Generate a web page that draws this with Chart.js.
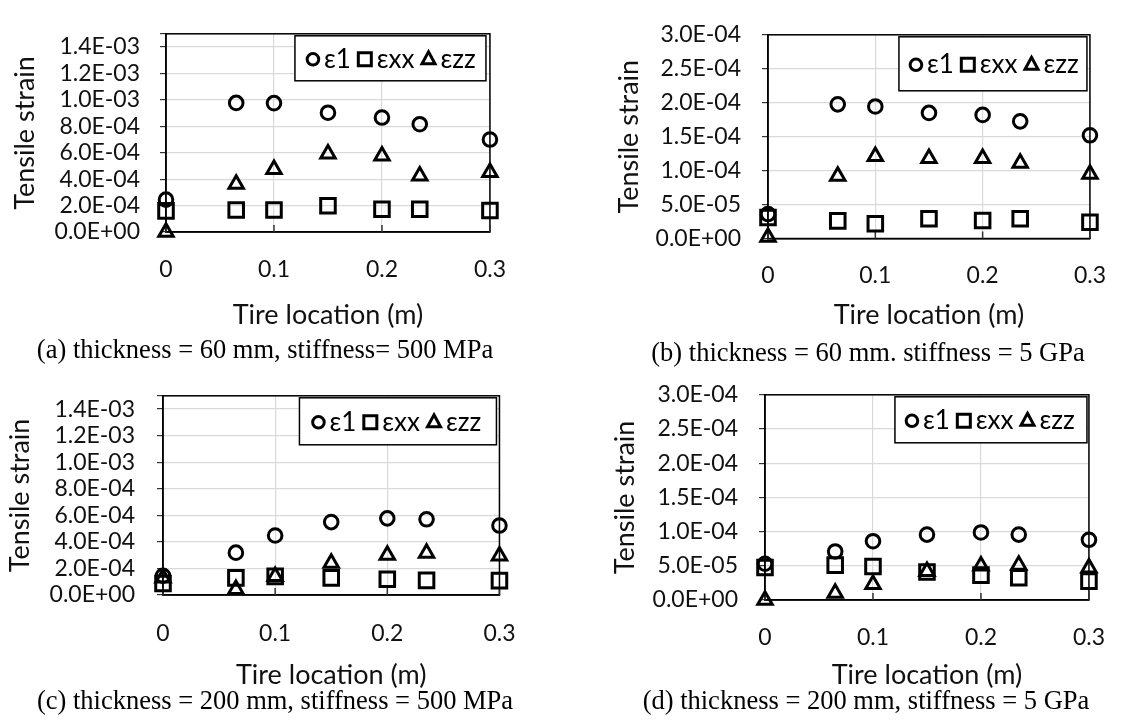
<!DOCTYPE html>
<html>
<head>
<meta charset="utf-8">
<script src="https://cdn.jsdelivr.net/npm/chart.js@4.4.0/dist/chart.umd.min.js"></script>
<style>
  body { margin: 0; background: #fff; width: 1129px; height: 723px; position: relative; overflow: hidden; }
  .panel { position: absolute; }
  .cap { position: absolute; font-family: 'Liberation Serif', 'Times New Roman', serif; font-size: 26.5px;
         white-space: nowrap; transform: translate(-50%, -50%); color: #000; line-height: 1; }
</style>
</head>
<body>
<div class="panel" style="left:0px;top:0px;width:530px;height:336px"><canvas id="chartA"></canvas></div>
<div class="panel" style="left:600px;top:0px;width:529px;height:336px"><canvas id="chartB"></canvas></div>
<div class="panel" style="left:0px;top:360px;width:540px;height:336px"><canvas id="chartC"></canvas></div>
<div class="panel" style="left:600px;top:360px;width:529px;height:336px"><canvas id="chartD"></canvas></div>

<div class="cap" style="left:265px;top:349px">(a) thickness = 60 mm, stiffness= 500 MPa</div>
<div class="cap" style="left:868px;top:352px">(b) thickness = 60 mm. stiffness = 5 GPa</div>
<div class="cap" style="left:275px;top:700px">(c) thickness = 200 mm, stiffness = 500 MPa</div>
<div class="cap" style="left:866px;top:700px">(d) thickness = 200 mm, stiffness = 5 GPa</div>

<script>
// tire locations (m), same for every panel
var xLoc = [0, 0.065, 0.1, 0.15, 0.2, 0.235, 0.3];
var seriesNames = ['ε1', 'εxx', 'εzz'];
var xTickLabels = ['0', '0.1', '0.2', '0.3'];
var yTickLabelsSoft = ['0.0E+00', '2.0E-04', '4.0E-04', '6.0E-04', '8.0E-04', '1.0E-03', '1.2E-03', '1.4E-03'];
var yTickLabelsStiff = ['0.0E+00', '5.0E-05', '1.0E-04', '1.5E-04', '2.0E-04', '2.5E-04', '3.0E-04'];

// (a) 60 mm, 500 MPa
var e1A  = [2.45e-4, 9.77e-4, 9.75e-4, 9.03e-4, 8.66e-4, 8.16e-4, 7.00e-4];
var exxA = [1.60e-4, 1.67e-4, 1.67e-4, 1.99e-4, 1.72e-4, 1.72e-4, 1.63e-4];
var ezzA = [0,       3.62e-4, 4.74e-4, 5.92e-4, 5.77e-4, 4.25e-4, 4.52e-4];
// (b) 60 mm, 5 GPa
var e1B  = [3.6e-5, 1.976e-4, 1.945e-4, 1.85e-4, 1.82e-4, 1.725e-4, 1.52e-4];
var exxB = [3.1e-5, 2.6e-5,   2.16e-5,  2.9e-5,  2.65e-5, 2.9e-5,   2.4e-5];
var ezzB = [2e-6,   9.2e-5,   1.21e-4,  1.18e-4, 1.18e-4, 1.11e-4,  9.5e-5];
// (c) 200 mm, 500 MPa
var e1C  = [1.45e-4, 3.19e-4, 4.48e-4, 5.49e-4, 5.77e-4, 5.70e-4, 5.23e-4];
var exxC = [8.6e-5,  1.29e-4, 1.40e-4, 1.29e-4, 1.18e-4, 1.10e-4, 1.08e-4];
var ezzC = [1.3e-4,  4.3e-5,  1.40e-4, 2.40e-4, 3.00e-4, 3.15e-4, 2.95e-4];
// (d) 200 mm, 5 GPa
var e1D  = [5.3e-5,  7.1e-5, 8.6e-5,  9.56e-5, 9.87e-5, 9.56e-5, 8.8e-5];
var exxD = [4.76e-5, 5.1e-5, 4.9e-5,  4.1e-5,  3.64e-5, 3.24e-5, 2.76e-5];
var ezzD = [0,       1.0e-5, 2.3e-5,  4.2e-5,  5.0e-5,  5.1e-5,  4.7e-5];

Chart.defaults.font.family = 'Lato';
Chart.defaults.font.size = 23;
Chart.defaults.color = '#111';

var markers = [
  { style: 'circle',   radius: 6.8, half: 7 },
  { style: 'rect',     radius: 10.3, half: 8 },
  { style: 'triangle', radius: 8.3, half: 8 }
];

// black box round the plot area, with short inside ticks on the x axis
var frame = {
  id: 'frame',
  beforeDatasetsDraw: function (chart) {
    var a = chart.chartArea, c = chart.ctx, xs = chart.scales.x;
    c.save();
    c.strokeStyle = '#000';
    c.lineWidth = 1.5;
    c.strokeRect(a.left, a.top, a.right - a.left, a.bottom - a.top);
    c.strokeStyle = '#333';
    c.beginPath();
    xs.ticks.forEach(function (t) {
      var px = xs.getPixelForValue(t.value);
      c.moveTo(px, a.bottom);
      c.lineTo(px, a.bottom - 7);
    });
    c.stroke();
    c.restore();
  }
};

// excel-like legend: one row inside a bordered box at the top right of the plot
var boxLegend = {
  id: 'boxLegend',
  afterDatasetsDraw: function (chart, args, o) {
    var a = chart.chartArea, c = chart.ctx;
    var x0 = a.right - o.right - o.width, y0 = a.top + o.top;
    c.save();
    c.fillStyle = '#fff';
    c.fillRect(x0, y0, o.width, o.height);
    c.strokeStyle = '#000';
    c.lineWidth = 1.5;
    c.strokeRect(x0, y0, o.width, o.height);
    c.font = o.fontSize + 'px Lato';
    c.textBaseline = 'middle';
    var cur = x0 + o.pad, cy = y0 + o.height / 2 + 1;
    chart.data.datasets.forEach(function (ds, i) {
      var m = markers[i];
      var cx = cur + m.half;
      c.lineWidth = ds.borderWidth;
      c.strokeStyle = '#000';
      c.beginPath();
      if (m.style === 'circle') {
        c.arc(cx, cy, 5.8, 0, Math.PI * 2);
      } else if (m.style === 'rect') {
        c.rect(cx - 6.5, cy - 6.5, 13, 13);
      } else {
        c.moveTo(cx, cy - 7.5);
        c.lineTo(cx + 6.5, cy + 4.5);
        c.lineTo(cx - 6.5, cy + 4.5);
        c.closePath();
      }
      c.stroke();
      c.fillStyle = '#000';
      var tx = cx + m.half + 4;
      c.fillText(ds.label, tx, cy);
      cur = tx + c.measureText(ds.label).width + 6;
    });
    c.restore();
  }
};

function sets(e1, exx, ezz) {
  return [e1, exx, ezz].map(function (vals, i) {
    return {
      label: seriesNames[i],
      data: vals.map(function (v, k) { return { x: xLoc[k], y: v }; }),
      pointStyle: markers[i].style,
      pointRadius: markers[i].radius,
      pointHoverRadius: markers[i].radius,
      borderColor: '#000',
      backgroundColor: 'rgba(0,0,0,0)',
      borderWidth: 3,
      clip: false
    };
  });
}

function labelFrom(list, step) {
  return function (v) {
    var k = Math.round(v / step);
    if (Math.abs(v / step - k) > 1e-6) return '';
    return list[k] === undefined ? '' : list[k];
  };
}

function makeChart(id, data, p) {
  new Chart(document.getElementById(id), {
    type: 'scatter',
    data: { datasets: data },
    options: {
      responsive: true,
      maintainAspectRatio: false,
      animation: false,
      events: [],
      layout: { padding: { top: p.padTop, right: p.padRight, left: 0, bottom: 0 } },
      plugins: {
        legend: { display: false },
        tooltip: { enabled: false },
        boxLegend: p.legend
      },
      scales: {
        x: {
          type: 'linear',
          min: 0, max: 0.3,
          afterFit: function (s) { s.height = p.xHeight; },
          afterBuildTicks: function (s) {
            s.ticks = xTickLabels.map(function (t, k) { return { value: k * 0.1 }; });
          },
          grid: { color: '#d9d9d9', lineWidth: 1.2, drawTicks: false },
          border: { color: '#000', width: 1.5 },
          ticks: { padding: p.xPad, maxRotation: 0, autoSkip: false, callback: labelFrom(xTickLabels, 0.1) },
          title: { display: true, text: 'Tire location (m)', font: { size: 27 }, padding: { top: 0, bottom: p.xTitlePad } }
        },
        y: {
          min: 0, max: p.yMax,
          afterFit: function (s) { s.width = p.yWidth; },
          afterBuildTicks: function (s) {
            var t = p.yLabels.map(function (l, k) { return { value: k * p.yStep }; });
            if (t[t.length - 1].value < p.yMax - 1e-9) t.push({ value: p.yMax });
            s.ticks = t;
          },
          grid: { color: '#d9d9d9', lineWidth: 1.2, tickLength: 6, tickColor: '#333' },
          border: { color: '#000', width: 1.5 },
          ticks: { padding: p.yPad, autoSkip: false, callback: labelFrom(p.yLabels, p.yStep) },
          title: { display: true, text: 'Tensile strain', font: { size: 27 }, padding: { top: p.yTitlePad, bottom: 0 } }
        }
      }
    },
    plugins: [frame, boxLegend]
  });
}

makeChart('chartA', sets(e1A, exxA, ezzA), {
  padTop: 7, padRight: 23, xHeight: 104, xPad: 24, xTitlePad: 5,
  yWidth: 166, yPad: 20, yTitlePad: 9, yMax: 1.5e-3, yStep: 2e-4, yLabels: yTickLabelsSoft,
  legend: { right: 4, top: 2, width: 191, height: 45, pad: 11, fontSize: 26 }
});
makeChart('chartB', sets(e1B, exxB, ezzB), {
  padTop: 14.5, padRight: 24, xHeight: 97.5, xPad: 23, xTitlePad: 5,
  yWidth: 168, yPad: 21, yTitlePad: 13, yMax: 3e-4, yStep: 5e-5, yLabels: yTickLabelsStiff,
  legend: { right: 3, top: 2, width: 188, height: 54, pad: 10, fontSize: 26 }
});
makeChart('chartC', sets(e1C, exxC, ezzC), {
  padTop: 3.3, padRight: 25, xHeight: 101, xPad: 24.5, xTitlePad: 5,
  yWidth: 163, yPad: 22, yTitlePad: 4, yMax: 1.5e-3, yStep: 2e-4, yLabels: yTickLabelsSoft,
  legend: { right: 3, top: 2, width: 197, height: 47, pad: 12, fontSize: 26 }
});
makeChart('chartD', sets(e1D, exxD, ezzD), {
  padTop: 14, padRight: 24, xHeight: 96, xPad: 24, xTitlePad: 5,
  yWidth: 165, yPad: 21, yTitlePad: 9, yMax: 3e-4, yStep: 5e-5, yLabels: yTickLabelsStiff,
  legend: { right: 2, top: 2, width: 192, height: 46, pad: 10, fontSize: 26 }
});
</script>
</body>
</html>
